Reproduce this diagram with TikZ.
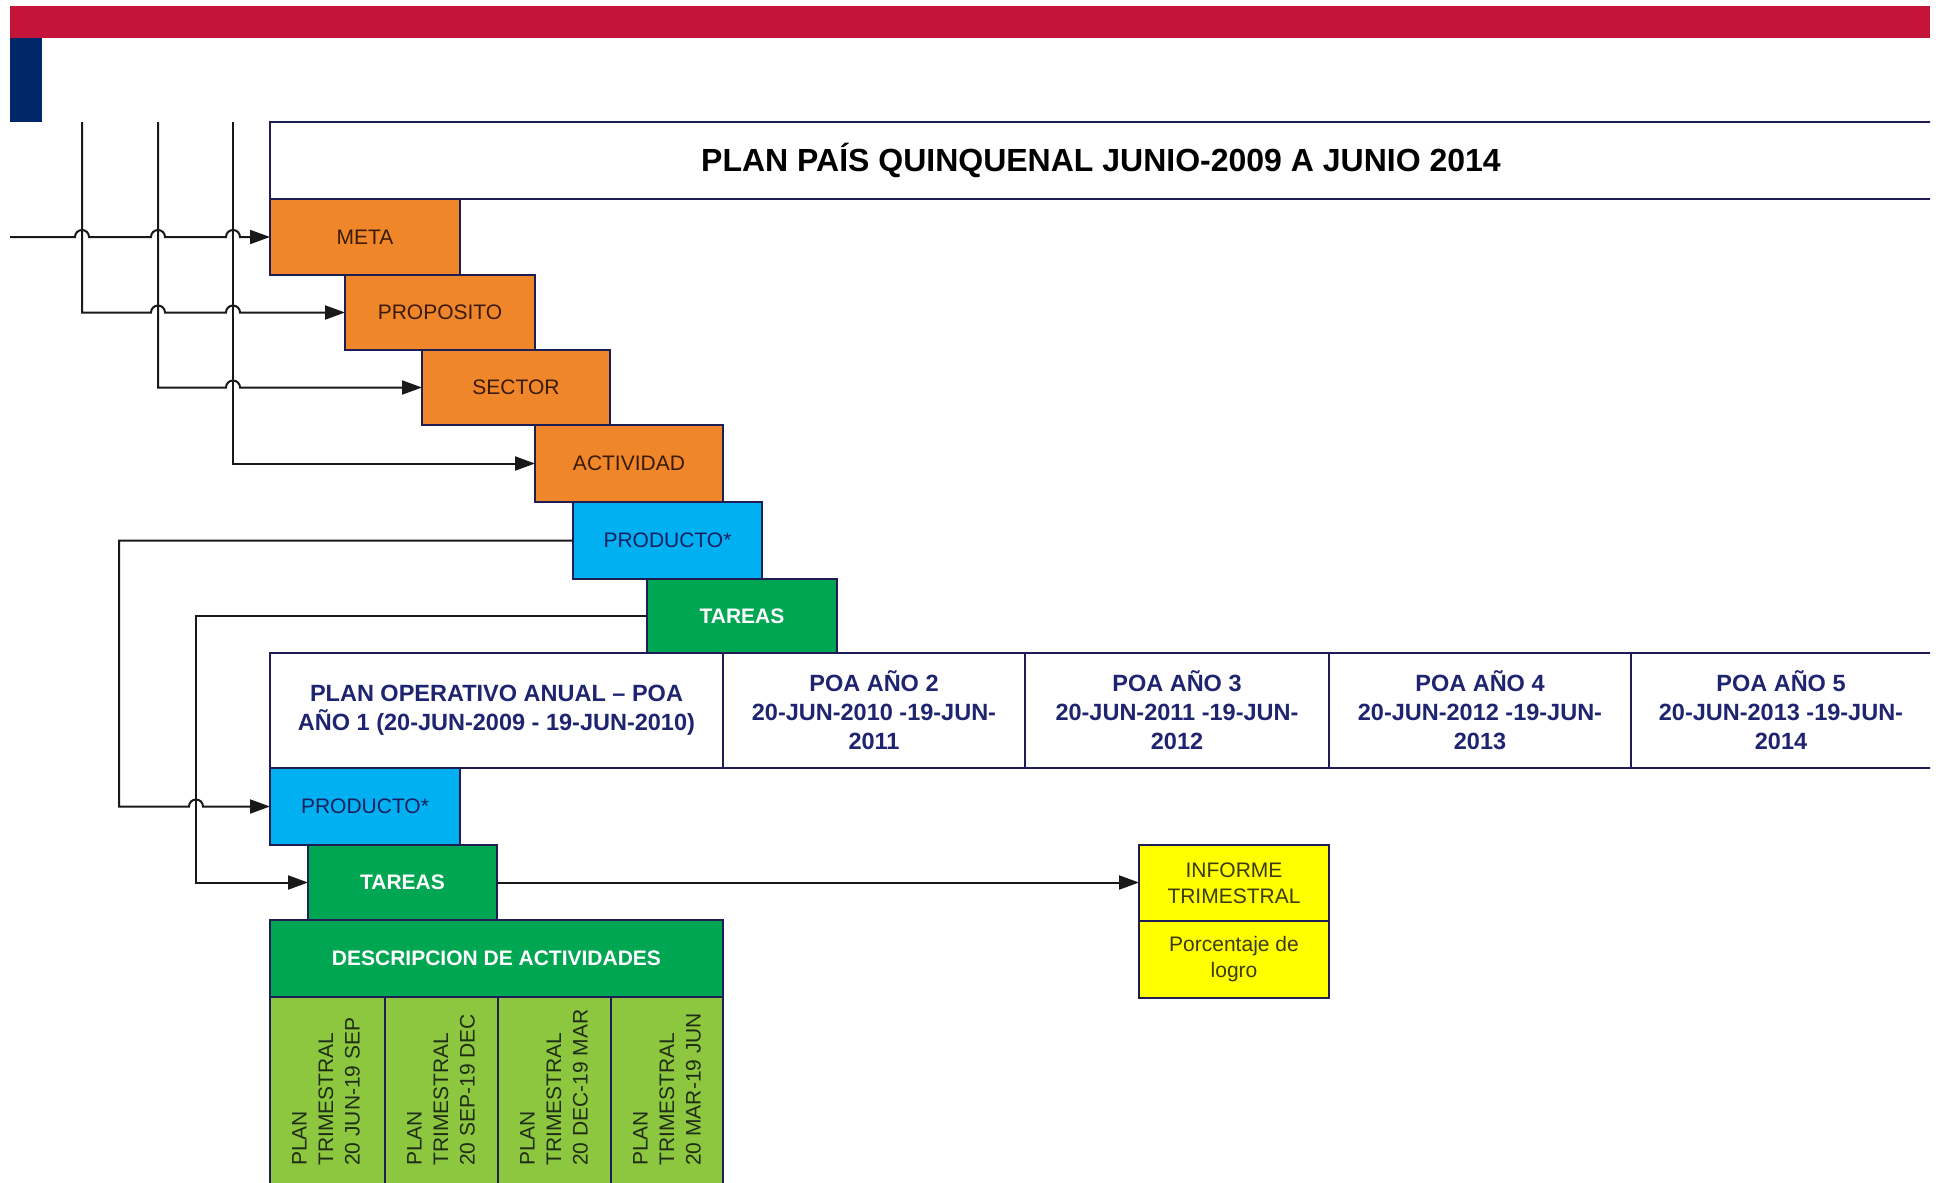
\documentclass[tikz,border=0pt]{standalone}
\usepackage{fontspec}
\setmainfont{Liberation Sans}
\usetikzlibrary{arrows.meta}

\definecolor{barred}{HTML}{C4143A}
\definecolor{barblue}{HTML}{002868}
\definecolor{boxline}{HTML}{1E1E55}
\definecolor{navytxt}{HTML}{1F2470}
\definecolor{orangefill}{HTML}{F0862A}
\definecolor{orangetxt}{HTML}{3A1A08}
\definecolor{cyanfill}{HTML}{00B0F0}
\definecolor{cyantxt}{HTML}{1A2060}
\definecolor{greenfill}{HTML}{00A651}
\definecolor{lightgreen}{HTML}{8DC63F}
\definecolor{plantxt}{HTML}{1F2D14}
\definecolor{yellowfill}{HTML}{FFFF00}
\definecolor{yellowtxt}{HTML}{3B3B14}

\begin{document}
\begin{tikzpicture}[x=1pt,y=-1pt,
  box/.style={draw=boxline, line width=2pt, inner sep=0pt, outer sep=0pt, anchor=north west, align=center},
  orangebox/.style={box, fill=orangefill, text=orangetxt, font=\fontsize{21}{25}\selectfont, minimum width=190pt},
  cyanbox/.style={box, fill=cyanfill, text=cyantxt, font=\fontsize{21}{25}\selectfont, minimum width=190pt},
  greenbox/.style={box, fill=greenfill, text=white, font=\bfseries\fontsize{21}{25}\selectfont},
  poacell/.style={box, fill=white, text=navytxt, font=\bfseries\fontsize{23.5}{29}\selectfont, minimum height=115pt},
  plancell/.style={box, fill=lightgreen, minimum height=200pt},
  plantext/.style={rotate=90, anchor=west, align=left, inner sep=0pt, text=plantxt, font=\fontsize{21}{26.6}\selectfont},
  yellowbox/.style={box, fill=yellowfill, text=yellowtxt, font=\fontsize{21}{26}\selectfont, minimum width=190pt},
  conn/.style={line width=2pt, draw=black!90},
  arr/.style={conn, -{Triangle[length=20pt,width=14pt]}},
]
\useasboundingbox (0,0) rectangle (1939,1183);
\fill[white] (0,0) rectangle (1939,1183);
\clip (0,0) rectangle (1930,1183);

% header bars
\fill[barred] (10,6) rectangle (1930,38);
\fill[barblue] (10,38) rectangle (42,122);

% title box
\node[box, fill=white, minimum width=1680pt, minimum height=77pt, font=\bfseries\fontsize{32}{38}\selectfont] (title) at (270,122) {PLAN PAÍS QUINQUENAL JUNIO-2009 A JUNIO 2014\hspace*{18pt}};

% cascade
\node[orangebox, minimum height=76pt] (meta) at (270,199) {META};
\node[orangebox, minimum height=75pt] (prop) at (345,275) {PROPOSITO};
\node[orangebox, minimum height=75pt, minimum width=188pt] (sector) at (422,350) {SECTOR};
\node[orangebox, minimum height=77pt, minimum width=188pt] (act) at (535,425) {ACTIVIDAD};
\node[cyanbox, minimum height=77pt, minimum width=189pt] (prodA) at (573,502) {PRODUCTO*};
\node[greenbox, minimum height=74pt, minimum width=190pt] (tarA) at (647,579) {TAREAS};

% POA row
\node[poacell, minimum width=453pt] (poa1) at (270,653) {PLAN OPERATIVO ANUAL – POA\\AÑO 1 (20-JUN-2009 - 19-JUN-2010)};
\node[poacell, minimum width=302pt] (poa2) at (723,653) {POA AÑO 2\\20-JUN-2010 -19-JUN-\\2011};
\node[poacell, minimum width=304pt] (poa3) at (1025,653) {POA AÑO 3\\20-JUN-2011 -19-JUN-\\2012};
\node[poacell, minimum width=302pt] (poa4) at (1329,653) {POA AÑO 4\\20-JUN-2012 -19-JUN-\\2013};
\node[poacell, minimum width=320pt] (poa5) at (1631,653) {\hspace*{-20pt}POA AÑO 5\\\hspace*{-20pt}20-JUN-2013 -19-JUN-\\\hspace*{-20pt}2014};

% lower cascade
\node[cyanbox, minimum height=77pt] (prodB) at (270,768) {PRODUCTO*};
\node[greenbox, minimum height=75pt, minimum width=189pt] (tarB) at (308,845) {TAREAS};
\node[greenbox, minimum height=77pt, minimum width=453pt] (desc) at (270,920) {DESCRIPCION DE ACTIVIDADES};

% quarterly plans
\node[plancell, minimum width=115pt] (q1) at (270,997) {};
\node[plancell, minimum width=113pt] (q2) at (385,997) {};
\node[plancell, minimum width=113pt] (q3) at (498,997) {};
\node[plancell, minimum width=112pt] (q4) at (611,997) {};
\node[plantext] (q1t) at (326,1166) {PLAN\\TRIMESTRAL\\20 JUN-19 SEP};
\node[plantext] (q2t) at (441,1166) {PLAN\\TRIMESTRAL\\20 SEP-19 DEC};
\node[plantext] (q3t) at (554,1166) {PLAN\\TRIMESTRAL\\20 DEC-19 MAR};
\node[plantext] (q4t) at (667,1166) {PLAN\\TRIMESTRAL\\20 MAR-19 JUN};

% report
\node[yellowbox, minimum height=76pt] (inf) at (1139,845) {INFORME\\TRIMESTRAL};
\node[yellowbox, minimum height=77pt] (pct) at (1139,921) {Porcentaje de\\logro};

% connector ends
\coordinate (in0) at (10,237);
\coordinate (v1top) at (82,122);
\coordinate (v2top) at (158,122);
\coordinate (v3top) at (233,122);

% connectors
\draw[arr] (in0) -- (75,237) arc[start angle=180,end angle=0,radius=7pt]
  -- (151,237) arc[start angle=180,end angle=0,radius=7pt]
  -- (226,237) arc[start angle=180,end angle=0,radius=7pt] -- (meta.west);
\draw[arr] (v1top) -- (82,312.5) -- (151,312.5) arc[start angle=180,end angle=0,radius=7pt]
  -- (226,312.5) arc[start angle=180,end angle=0,radius=7pt] -- (prop.west);
\draw[arr] (v2top) -- (158,387.5) -- (226,387.5) arc[start angle=180,end angle=0,radius=7pt] -- (sector.west);
\draw[arr] (v3top) -- (233,463.5) -- (act.west);

\draw[arr] (prodA.west) -- (119,540.5) -- (119,806.5) -- (189,806.5) arc[start angle=180,end angle=0,radius=7pt] -- (prodB.west);
\draw[arr] (tarA.west) -- (196,616) -- (196,882.5) -- (tarB.west);
\draw[arr] (tarB.east) -- (tarB.east -| inf.west);
\end{tikzpicture}
\end{document}
